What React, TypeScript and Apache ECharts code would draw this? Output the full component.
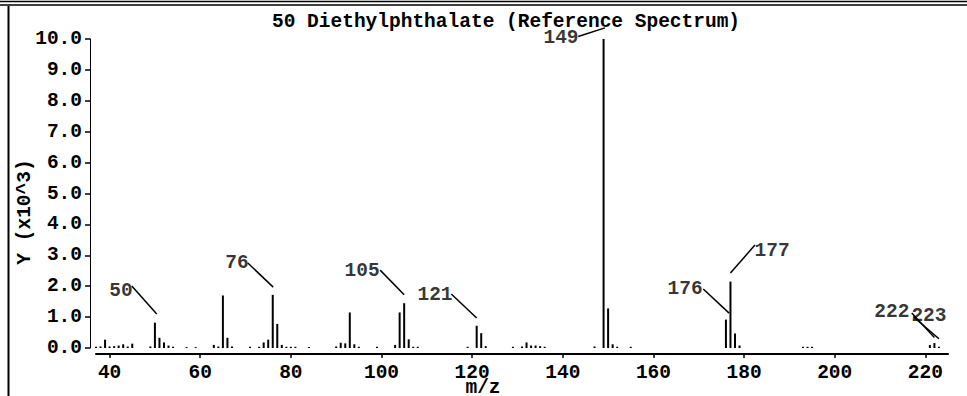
import React, { useEffect, useRef } from "react";
import * as echarts from "echarts";

const FONT = "Liberation Mono";
const FS = 19.5;
const FW = "bold";

// m/z values and intensities (x10^3)
const mz = [
  37, 38, 39, 40, 41, 42, 43, 44, 45, 49, 50, 51, 52, 53, 54, 57, 59, 63, 64, 65,
  66, 67, 71, 73, 74, 75, 76, 77, 78, 79, 80, 81, 84, 90, 91, 92, 93, 94, 95, 99,
  103, 104, 105, 106, 107, 108, 119, 121, 122, 123, 129, 131, 132, 133, 134, 135,
  136, 147, 149, 150, 151, 152, 155, 176, 177, 178, 179, 193, 194, 195, 221, 222, 223,
];
const intensity = [
  0.04, 0.05, 0.27, 0.05, 0.06, 0.08, 0.12, 0.05, 0.14, 0.05, 0.82, 0.33, 0.18, 0.08, 0.04, 0.03, 0.03, 0.1, 0.05, 1.7,
  0.33, 0.05, 0.04, 0.04, 0.18, 0.27, 1.72, 0.78, 0.1, 0.04, 0.04, 0.04, 0.03, 0.05, 0.17, 0.15, 1.15, 0.12, 0.04, 0.04,
  0.1, 1.15, 1.45, 0.28, 0.04, 0.04, 0.04, 0.72, 0.48, 0.06, 0.04, 0.05, 0.18, 0.08, 0.08, 0.06,
  0.04, 0.05, 10.0, 1.28, 0.12, 0.04, 0.04, 0.92, 2.15, 0.47, 0.08, 0.04, 0.04, 0.04, 0.1, 0.16, 0.04,
];

// tick labels
const xTickValues = [40, 60, 80, 100, 120, 140, 160, 180, 200, 220];

// peak annotations: label text, label position (m/z, y), leader line start and end (m/z, y)
const annLabels = ["50", "76", "105", "121", "149", "176", "177", "222", "223"];
const annTextPos = [
  [42.5, 1.84], [68.1, 2.75], [95.7, 2.49], [111.8, 1.72], [139.6, 10.04],
  [167.0, 1.91], [186.2, 3.14], [212.6, 1.165], [220.8, 1.036],
];
const annLineStart = [
  [44.9, 2.01], [70.5, 2.75], [99.7, 2.52], [115.4, 1.75], [143.4, 10.08],
  [171.0, 1.91], [182.4, 3.33], [217.0, 1.13], [217.3, 1.02],
];
const annLineEnd = [
  [50.4, 1.1], [76.1, 1.97], [105.0, 1.72], [121.0, 0.97], [149.3, 10.36],
  [176.7, 1.13], [177.0, 2.43], [222.0, 0.34], [223.0, 0.3],
];

const TITLE = "50 Diethylphthalate (Reference Spectrum)";

export default function App() {
  const ref = useRef<HTMLDivElement>(null);
  useEffect(() => {
    if (!ref.current) return;
    const chart = echarts.init(ref.current, null, { renderer: "svg" });
    const textStyle = { fontFamily: FONT, fontSize: FS, fontWeight: FW, color: "#000" };
    chart.setOption({
      animation: false,
      backgroundColor: "#fff",
      title: {
        text: TITLE,
        left: 272,
        top: 12,
        padding: 0,
        textStyle: { ...textStyle },
      },
      grid: { left: 96, right: 19, top: 39, bottom: 48 },
      xAxis: {
        type: "value",
        min: 37,
        max: 225,
        offset: 6,
        splitLine: { show: false },
        axisLine: { show: true, onZero: false, lineStyle: { color: "#000", width: 2 } },
        axisTick: { show: true, length: 4, customValues: xTickValues, lineStyle: { color: "#000", width: 1.5 } },
        axisLabel: { customValues: xTickValues, margin: 9, ...textStyle },
      },
      yAxis: {
        type: "value",
        min: 0,
        max: 10,
        interval: 1,
        offset: 6,
        splitLine: { show: false },
        axisLine: { show: true, lineStyle: { color: "#000", width: 1 } },
        axisTick: { show: true, length: 5, lineStyle: { color: "#000", width: 1.5 } },
        axisLabel: { margin: 8, formatter: (v: number) => v.toFixed(1), ...textStyle },
      },
      graphic: [
        { type: "line", shape: { x1: 0, y1: 1.5, x2: 967, y2: 1.5 }, style: { stroke: "#000", lineWidth: 1.5 } },
        { type: "line", shape: { x1: 0, y1: 5, x2: 967, y2: 5 }, style: { stroke: "#000", lineWidth: 1.5 } },
        { type: "line", shape: { x1: 8.5, y1: 6, x2: 8.5, y2: 396 }, style: { stroke: "#000", lineWidth: 2 } },
        {
          type: "text",
          x: 25,
          y: 212,
          rotation: Math.PI / 2,
          style: { text: "Y (x10^3)", font: `${FW} ${FS}px "${FONT}"`, fill: "#000", align: "center", verticalAlign: "middle" },
        },
        {
          type: "text",
          x: 483,
          y: 388,
          style: { text: "m/z", font: `${FW} ${FS}px "${FONT}"`, fill: "#000", align: "center", verticalAlign: "middle" },
        },
      ],
      series: [
        {
          type: "bar",
          barWidth: 2,
          itemStyle: { color: "#000" },
          data: mz.map((m, i) => [m, intensity[i]]),
        },
        {
          type: "lines",
          coordinateSystem: "cartesian2d",
          clip: false,
          lineStyle: { color: "#000", width: 1.5, opacity: 1 },
          data: annLabels.map((_, i) => ({ coords: [annLineStart[i], annLineEnd[i]] })),
        },
        {
          type: "scatter",
          clip: false,
          symbolSize: 0,
          itemStyle: { color: "#000" },
          label: {
            show: true,
            position: [0, 0],
            align: "center",
            verticalAlign: "middle",
            formatter: (p: any) => p.value[2],
            ...textStyle,
            textBorderWidth: 0,
          },
          data: annLabels.map((t, i) => [annTextPos[i][0], annTextPos[i][1], t]),
        },
      ],
    });
    return () => chart.dispose();
  }, []);
  return <div ref={ref} style={{ position: "fixed", left: 0, top: 0, width: 967, height: 396 }} />;
}
